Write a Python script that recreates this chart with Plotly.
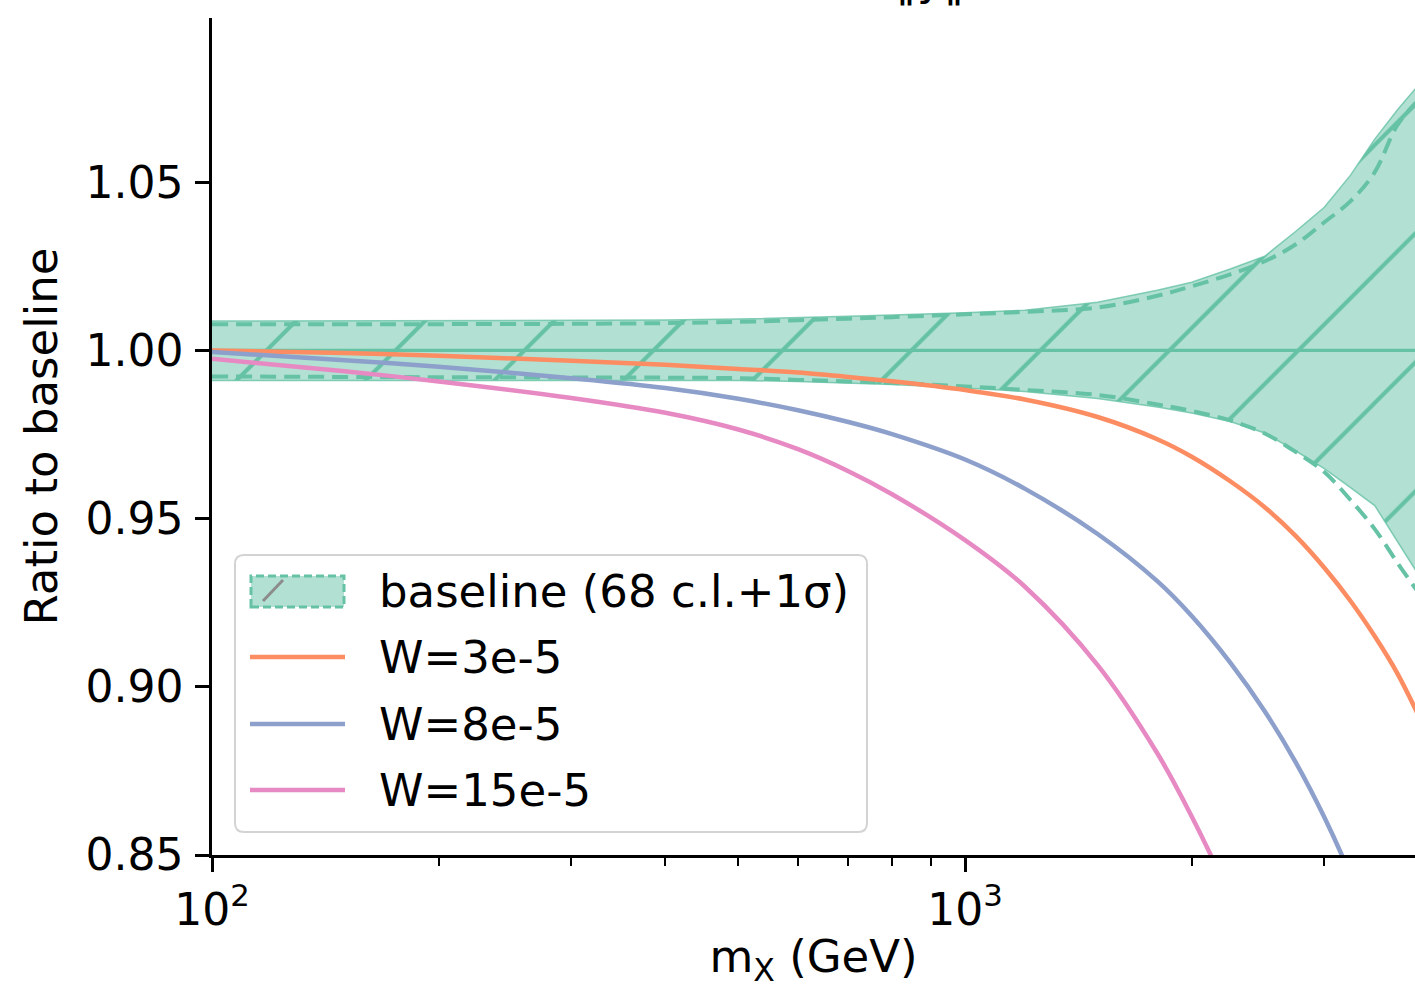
import plotly.graph_objects as go

# Dark-matter mass grid (GeV)
mass = [100, 150, 200, 300, 400, 500, 600, 700, 800, 1000, 1200, 1500, 1800,
        2000, 2250, 2500, 2750, 3000, 3250, 3500, 3750, 4000]

# Baseline ratio and its 68 c.l. + 1 sigma envelope
baseline = [1.0] * len(mass)
band_upper = [1.00872, 1.00878, 1.00884, 1.00893, 1.00902, 1.00932, 1.00967, 1.01012,
              1.01050, 1.01116, 1.01196, 1.01429, 1.01786, 1.02024, 1.02417, 1.02798,
              1.03542, 1.04256, 1.05208, 1.06280, 1.07143, 1.07887]
band_lower = [0.99107, 0.99107, 0.99107, 0.99107, 0.99110, 0.99105, 0.99077, 0.99033,
              0.98988, 0.98884, 0.98780, 0.98571, 0.98318, 0.98140, 0.97887, 0.97545,
              0.97009, 0.96488, 0.95923, 0.95387, 0.94315, 0.93333]
sigma_upper = [1.00774, 1.00774, 1.00780, 1.00789, 1.00810, 1.00848, 1.00899, 1.00943,
               1.00988, 1.01071, 1.01146, 1.01274, 1.01622, 1.01905, 1.02262, 1.02649,
               1.03155, 1.03810, 1.04435, 1.05298, 1.06696, 1.07440]
sigma_lower = [0.99226, 0.99211, 0.99202, 0.99196, 0.99190, 0.99173, 0.99122, 0.99077,
               0.99033, 0.98929, 0.98824, 0.98676, 0.98393, 0.98200, 0.97917, 0.97530,
               0.96979, 0.96384, 0.95551, 0.94688, 0.93690, 0.92798]

# Ratios for the three width values
series_names = ["W=3e-5", "W=8e-5", "W=15e-5"]
ratio_w3 = [1.00000, 0.99925, 0.99840, 0.99690, 0.99570, 0.99450, 0.99340, 0.99210,
            0.99080, 0.98820, 0.98540, 0.98020, 0.97360, 0.96840, 0.96110, 0.95340,
            0.94480, 0.93540, 0.92550, 0.91500, 0.90400, 0.89150]
ratio_w8 = [0.99950, 0.99710, 0.99510, 0.99170, 0.98880, 0.98560, 0.98220, 0.97870,
            0.97510, 0.96755, 0.95891, 0.94541, 0.93140, 0.92105, 0.90719, 0.89274,
            0.87745, 0.86120, 0.84397, 0.82550, 0.80615, 0.78600]
ratio_w15 = [0.99750, 0.99379, 0.99078, 0.98587, 0.98145, 0.97649, 0.97064, 0.96409,
             0.95724, 0.94359, 0.92982, 0.90646, 0.88024, 0.86144, 0.83757, 0.81383,
             0.79043]
series_values = [ratio_w3, ratio_w8, ratio_w15]
series_colors = ["#fc8d62", "#8da0cb", "#e78ac3"]

band_label = "baseline (68 c.l.+1σ)"
title_text = "‖y‖"

y_ticks = [0.85, 0.90, 0.95, 1.00, 1.05]
y_ticktext = ["0.85", "0.90", "0.95", "1.00", "1.05"]
x_ticks = [100, 1000]
x_ticktext = ["10<sup>2</sup>", "10<sup>3</sup>"]
x_minor = [200, 300, 400, 500, 600, 700, 800, 900, 2000, 3000]

TEAL = "#66c2a5"
TEAL_FILL = "rgba(102,194,165,0.5)"
FONT = "DejaVu Sans"

W, H = 1415, 988
L, R, T, B = 212, 0, 18, 133
PW, PH = W - L - R, H - T - B


def xp(px):
    return (px - L) / PW


def yp(py):
    return (H - B - py) / PH


fig = go.Figure()

# Hatched envelope as one closed polygon
fig.add_trace(go.Scatter(
    x=mass + mass[::-1], y=band_upper + band_lower[::-1],
    mode="lines", fill="toself", fillcolor=TEAL_FILL,
    fillpattern=dict(shape="/", size=91.2, solidity=0.045, fgcolor=TEAL,
                     bgcolor=TEAL_FILL, fgopacity=1.0),
    line=dict(color="rgba(102,194,165,0.8)", width=1.5),
    name=band_label, showlegend=False, hoverinfo="skip"))

# Central baseline
fig.add_trace(go.Scatter(x=mass, y=baseline, mode="lines",
                         line=dict(color=TEAL, width=3.2),
                         showlegend=False))

# 1 sigma dashed bounds
for yv in (sigma_upper, sigma_lower):
    fig.add_trace(go.Scatter(x=mass, y=yv, mode="lines", line_shape="spline",
                             line=dict(color=TEAL, width=4, dash="16px,8px"),
                             showlegend=False))

# Width curves
for name, vals, col in zip(series_names, series_values, series_colors):
    fig.add_trace(go.Scatter(x=mass[:len(vals)], y=vals, mode="lines",
                             line_shape="spline",
                             line=dict(color=col, width=4.5), name=name,
                             showlegend=False))

# Legend drawn in paper coordinates
shapes = []
annotations = []
bx0, bx1, by0, by1 = 235, 867, 555, 832
r = 9
x0, x1 = xp(bx0), xp(bx1)
y0, y1 = yp(by1), yp(by0)
rx, ry = r / PW, r / PH
path = (f"M{x0+rx},{y0} L{x1-rx},{y0} Q{x1},{y0} {x1},{y0+ry} "
        f"L{x1},{y1-ry} Q{x1},{y1} {x1-rx},{y1} L{x0+rx},{y1} "
        f"Q{x0},{y1} {x0},{y1-ry} L{x0},{y0+ry} Q{x0},{y0} {x0+rx},{y0} Z")
shapes.append(dict(type="path", path=path, xref="paper", yref="paper",
                   fillcolor="rgba(255,255,255,0.8)",
                   line=dict(color="#d3d3d3", width=2)))

rows = [591, 657, 724, 790]
# envelope patch
shapes.append(dict(type="rect", xref="paper", yref="paper",
                   x0=xp(251), x1=xp(344), y0=yp(607), y1=yp(576),
                   fillcolor=TEAL_FILL,
                   line=dict(color=TEAL, width=3, dash="8px,4px")))
shapes.append(dict(type="line", xref="paper", yref="paper",
                   x0=xp(263), x1=xp(283), y0=yp(601), y1=yp(580),
                   line=dict(color="#8c8c8c", width=3)))
for rowy, col in zip(rows[1:], series_colors):
    shapes.append(dict(type="line", xref="paper", yref="paper",
                       x0=xp(250), x1=xp(345), y0=yp(rowy), y1=yp(rowy),
                       line=dict(color=col, width=4.5)))
for rowy, label in zip(rows, [band_label] + series_names):
    annotations.append(dict(text=label, xref="paper", yref="paper",
                            x=xp(377), y=yp(rowy), xanchor="left", yanchor="middle",
                            showarrow=False, font=dict(family=FONT, size=45, color="black")))

# Title sits above the visible area
annotations.append(dict(text=title_text, xref="paper", yref="paper",
                        x=xp(930), y=yp(8), xanchor="center", yanchor="bottom",
                        showarrow=False, font=dict(family=FONT, size=44, color="black")))

fig.update_layout(
    width=W, height=H,
    margin=dict(l=L, r=R, t=T, b=B, autoexpand=False),
    paper_bgcolor="white", plot_bgcolor="white",
    font=dict(family=FONT, size=44, color="black"),
    showlegend=False,
    shapes=shapes, annotations=annotations,
    xaxis=dict(type="log", range=[2, 3.5975],
               tickmode="array", tickvals=x_ticks, ticktext=x_ticktext,
               ticks="outside", ticklen=14, tickwidth=2.5, tickcolor="black",
               minor=dict(tickmode="array", tickvals=x_minor, ticks="outside",
                          ticklen=8, tickwidth=2, tickcolor="black", showgrid=False),
               showline=True, linecolor="black", linewidth=2.5,
               showgrid=False, zeroline=False,
               tickfont=dict(family=FONT, size=44),
               title=dict(text="m<sub>X</sub> (GeV)", standoff=24,
                          font=dict(family=FONT, size=45))),
    yaxis=dict(range=[0.85, 1.0988],
               tickmode="array", tickvals=y_ticks, ticktext=y_ticktext,
               ticks="outside", ticklen=14, tickwidth=2.5, tickcolor="black",
               showline=True, linecolor="black", linewidth=2.5,
               showgrid=False, zeroline=False,
               tickfont=dict(family=FONT, size=44),
               ticklabelstandoff=3,
               title=dict(text="Ratio to baseline", standoff=14,
                          font=dict(family=FONT, size=45))),
)

fig.write_html("out.html")
